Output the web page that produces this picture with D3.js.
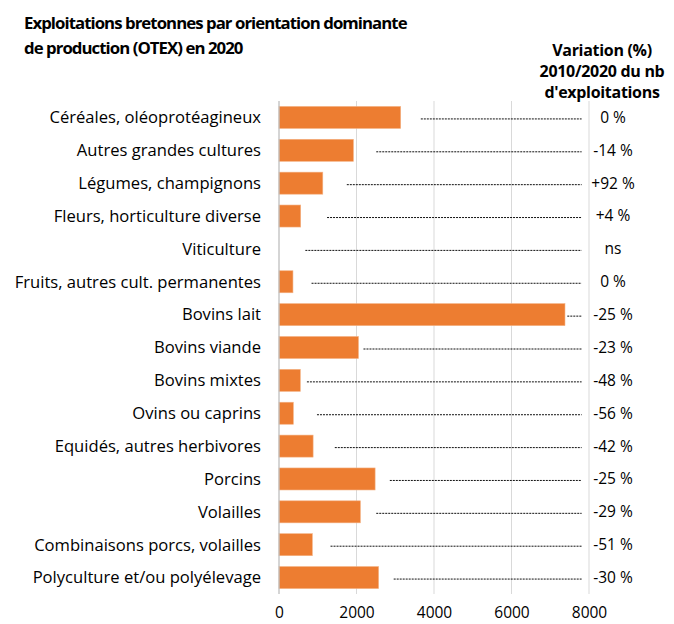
<!DOCTYPE html>
<html>
<head>
<meta charset="utf-8">
<script src="https://cdn.jsdelivr.net/npm/d3@7"></script>
<style>
  body { margin: 0; background: #fff; }
  svg text { font-family: "Open Sans", "Noto Sans", sans-serif; fill: #000; }
</style>
</head>
<body>
<div id="chart"></div>
<script>
// categories (top to bottom)
const categories = [
  "Céréales, oléoprotéagineux",
  "Autres grandes cultures",
  "Légumes, champignons",
  "Fleurs, horticulture diverse",
  "Viticulture",
  "Fruits, autres cult. permanentes",
  "Bovins lait",
  "Bovins viande",
  "Bovins mixtes",
  "Ovins ou caprins",
  "Equidés, autres herbivores",
  "Porcins",
  "Volailles",
  "Combinaisons porcs, volailles",
  "Polyculture et/ou polyélevage"
];
// number of farms in 2020
const farms = [3140, 1920, 1130, 560, 0, 360, 7380, 2050, 550, 370, 880, 2480, 2100, 860, 2570];
// variation 2010/2020
const variation = ["0 %", "-14 %", "+92 %", "+4 %", "ns", "0 %", "-25 %", "-23 %", "-48 %", "-56 %", "-42 %", "-25 %", "-29 %", "-51 %", "-30 %"];
// where the dotted leader starts (in farm units)
const leaderFrom = [3660, 2510, 1750, 1240, 680, 840, 7440, 2180, 720, 980, 1440, 2860, 2510, 1330, 2960];
const leaderTo = 7810;
const xTicks = [0, 2000, 4000, 6000, 8000];
const titleLines = ["Exploitations bretonnes par orientation dominante", "de production (OTEX) en 2020"];
const headerLines = ["Variation (%)", "2010/2020 du nb", "d'exploitations"];

const margin = {top: 101, right: 85, bottom: 30, left: 279};
const size = {width: 674, height: 624};
const width = size.width - margin.left - margin.right;
const height = size.height - margin.top - margin.bottom;

const svg = d3.select("#chart").append("svg")
    .attr("width", size.width)
    .attr("height", size.height);

// title
svg.append("g")
    .selectAll("text")
    .data(titleLines)
    .join("text")
    .attr("x", 24)
    .attr("y", (d, i) => 29 + i * 25)
    .attr("font-size", 16.8)
    .attr("letter-spacing", -0.95)
    .attr("font-weight", "bold")
    .text(d => d);

// right header
svg.append("g")
    .selectAll("text")
    .data(headerLines)
    .join("text")
    .attr("x", 602)
    .attr("y", (d, i) => 56 + i * 21)
    .attr("text-anchor", "middle")
    .attr("font-size", 16)
    .attr("letter-spacing", -0.3)
    .attr("font-weight", "bold")
    .text(d => d);

const g = svg.append("g")
    .attr("transform", "translate(" + margin.left + "," + margin.top + ")");

const x = d3.scaleLinear().domain([0, 8000]).range([0, 310]);
const y = d3.scaleBand().domain(categories).range([0, height]).paddingInner(0.33).paddingOuter(0.165);

// gridlines
g.append("g")
    .selectAll("line")
    .data(xTicks.slice(1))
    .join("line")
    .attr("x1", d => x(d)).attr("x2", d => x(d))
    .attr("y1", 0).attr("y2", height)
    .attr("stroke", "#d9d9d9")
    .attr("stroke-width", 1);

// x axis labels
const xAxis = g.append("g")
    .attr("transform", `translate(0,${height})`)
    .call(d3.axisBottom(x).tickValues(xTicks).tickSize(0).tickPadding(13).tickFormat(d3.format("d")));
xAxis.select(".domain").remove();
xAxis.selectAll("text")
    .attr("font-size", 15.5)
    .attr("font-family", "'Open Sans', sans-serif")
    .attr("fill", "#000");

// bars
g.selectAll(".bar")
    .data(categories)
    .join("rect")
    .attr("class", "bar")
    .attr("x", 0)
    .attr("y", d => y(d))
    .attr("width", (d, i) => x(farms[i]))
    .attr("height", y.bandwidth())
    .attr("fill", "#ed7d31")
    .attr("stroke", "#f4b183")
    .attr("stroke-width", 0.6);

// vertical axis line
g.append("line")
    .attr("x1", 0).attr("x2", 0)
    .attr("y1", 0).attr("y2", height)
    .attr("stroke", "#bfbfbf")
    .attr("stroke-width", 1.3);

// leader lines
g.selectAll(".leader")
    .data(categories)
    .join("line")
    .attr("class", "leader")
    .attr("x1", (d, i) => x(leaderFrom[i]))
    .attr("x2", x(leaderTo))
    .attr("y1", d => y(d) + y.bandwidth() / 2 + 1.5)
    .attr("y2", d => y(d) + y.bandwidth() / 2 + 1.5)
    .attr("stroke", "#111")
    .attr("stroke-width", 1)
    .attr("stroke-dasharray", "2,1");

// category labels
g.selectAll(".cat")
    .data(categories)
    .join("text")
    .attr("class", "cat")
    .attr("x", -18)
    .attr("y", d => y(d) + y.bandwidth() / 2)
    .attr("dy", "0.35em")
    .attr("text-anchor", "end")
    .attr("font-size", 16.6)
    .text(d => d);

// variation labels
g.selectAll(".var")
    .data(categories)
    .join("text")
    .attr("class", "var")
    .attr("x", 334)
    .attr("y", d => y(d) + y.bandwidth() / 2)
    .attr("dy", "0.35em")
    .attr("text-anchor", "middle")
    .attr("font-size", 15.5)
    .text((d, i) => variation[i]);
</script>
</body>
</html>
